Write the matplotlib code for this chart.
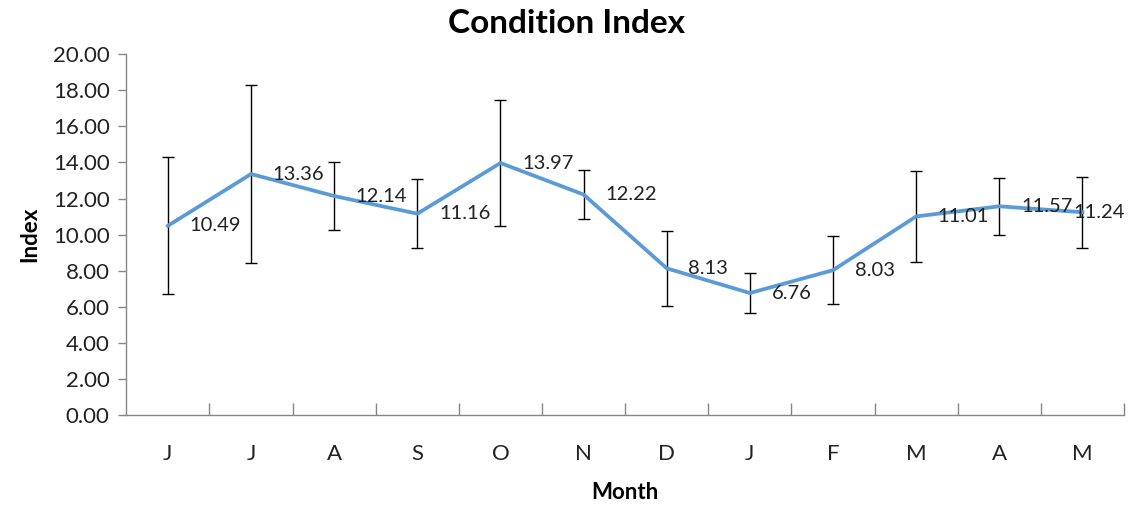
import matplotlib
matplotlib.use("Agg")
import matplotlib.pyplot as plt
import numpy as np

months = ["J", "J", "A", "S", "O", "N", "D", "J", "F", "M", "A", "M"]
index_values = [10.49, 13.36, 12.14, 11.16, 13.97, 12.22, 8.13, 6.76, 8.03, 11.01, 11.57, 11.24]
error_values = [3.79, 4.96, 1.90, 1.90, 3.48, 1.37, 2.09, 1.12, 1.87, 2.52, 1.59, 1.96]
y_ticks = [0, 2, 4, 6, 8, 10, 12, 14, 16, 18, 20]

plt.rcParams['font.family'] = ['Lato', 'DejaVu Sans']

fig = plt.figure(figsize=(11.28, 5.07), dpi=100)
ax = fig.add_axes([0.112, 0.1815, 0.8845, 0.7115])

x = np.arange(len(months))
ax.errorbar(x, index_values, yerr=error_values, fmt='none', ecolor='black',
            elinewidth=1.0, capsize=4.3, capthick=1.0, zorder=2)
ax.plot(x, index_values, color='#5B9BD5', linewidth=2.7, zorder=3,
        solid_joinstyle='round')

texts = []
for xi, yi in zip(x, index_values):
    t = ax.annotate(f"{yi:.2f}", xy=(xi, yi), xytext=(15.5, 0),
                    textcoords='offset points', ha='left', va='center',
                    fontsize=14.5, color='#222222', zorder=4)
    texts.append(t)

ax.set_xlim(-0.5, len(months) - 0.5)
ax.set_ylim(0, 20)
ax.set_yticks(y_ticks)
ax.set_yticklabels([f"{v:.2f}" for v in y_ticks])
ax.set_xticks(x)
ax.set_xticklabels(months)
ax.set_xticks(np.arange(0.5, len(months), 1.0), minor=True)

for s in ['top', 'right']:
    ax.spines[s].set_visible(False)
for s in ['left', 'bottom']:
    ax.spines[s].set_color('#868686')
    ax.spines[s].set_linewidth(1.0)

ax.tick_params(axis='y', which='major', direction='out', length=6, width=1,
               color='#868686', labelsize=16, pad=6, labelcolor='#222222')
ax.tick_params(axis='x', which='major', length=0, labelsize=16, pad=21,
               labelcolor='#222222')
ax.tick_params(axis='x', which='minor', direction='in', length=9, width=1,
               color='#868686')

ax.set_ylabel("Index", fontsize=16, fontweight='bold', labelpad=9)
ax.set_xlabel("Month", fontsize=16, fontweight='bold', labelpad=13)
fig.suptitle("Condition Index", fontsize=24, fontweight='bold', x=0.502, y=0.982)

# keep data labels inside the figure, like the spreadsheet does
fig.canvas.draw()
renderer = fig.canvas.get_renderer()
fig_w = fig.bbox.width
for t in texts:
    bb = t.get_window_extent(renderer)
    if bb.x1 > fig_w - 3:
        shift_pts = (bb.x1 - (fig_w - 3)) * 72.0 / fig.dpi
        ox, oy = t.xyann
        t.xyann = (ox - shift_pts, oy)

fig.savefig("out.png", dpi=100)
